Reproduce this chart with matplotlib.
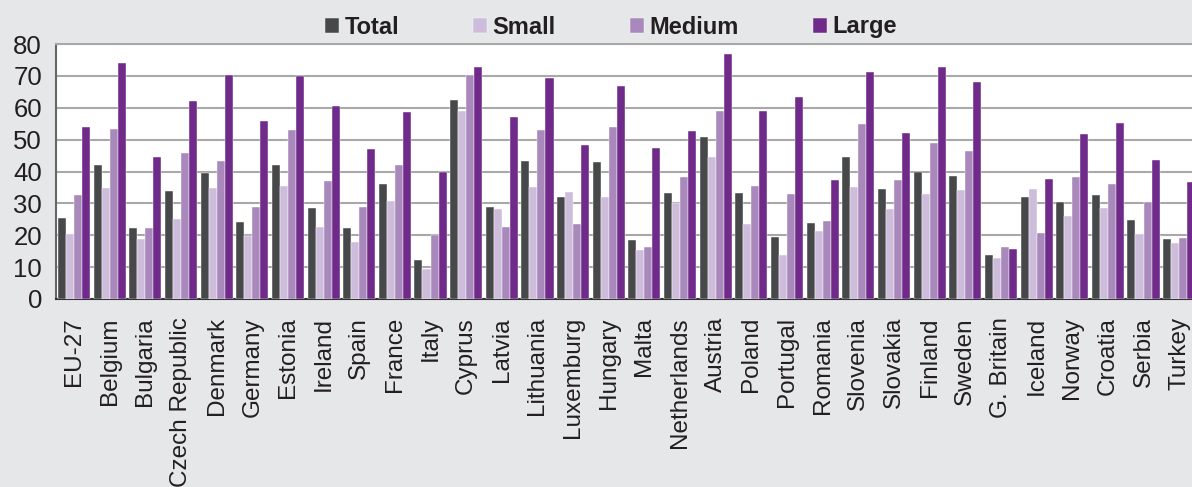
import matplotlib
matplotlib.use("Agg")
import matplotlib.pyplot as plt
import numpy as np

countries = ["EU-27", "Belgium", "Bulgaria", "Czech Republic", "Denmark", "Germany",
             "Estonia", "Ireland", "Spain", "France", "Italy", "Cyprus", "Latvia",
             "Lithuania", "Luxemburg", "Hungary", "Malta", "Netherlands", "Austria",
             "Poland", "Portugal", "Romania", "Slovenia", "Slovakia", "Finland",
             "Sweden", "G. Britain", "Iceland", "Norway", "Croatia", "Serbia", "Turkey"]

total = [25.3, 42.1, 22.3, 34.0, 39.5, 24.2, 41.9, 28.4, 22.2, 36.0, 12.1, 62.3, 29.0,
         43.2, 32.1, 43.1, 18.4, 33.4, 50.9, 33.4, 19.5, 24.0, 44.5, 34.6, 39.7, 38.7,
         13.7, 32.1, 30.5, 32.5, 24.8, 18.7]
small = [20.4, 34.8, 18.9, 25.0, 34.9, 19.8, 35.5, 22.6, 17.9, 30.9, 9.4, 59.0, 28.2,
         35.1, 33.7, 32.1, 15.5, 30.2, 44.7, 23.6, 13.7, 21.3, 35.1, 28.3, 32.9, 34.2,
         12.9, 34.5, 25.9, 28.5, 20.3, 17.5]
medium = [32.6, 53.3, 22.2, 45.8, 43.4, 29.0, 53.0, 36.9, 28.8, 41.9, 20.1, 70.2, 22.5,
          52.9, 23.6, 54.1, 16.3, 38.4, 59.0, 35.6, 33.0, 24.5, 54.8, 37.3, 48.9, 46.4,
          16.3, 20.6, 38.2, 36.0, 30.4, 19.1]
large = [53.9, 74.0, 44.4, 62.0, 70.3, 55.7, 69.9, 60.6, 47.1, 58.6, 40.0, 72.8, 57.1,
         69.3, 48.4, 66.7, 47.3, 52.7, 77.0, 58.9, 63.5, 37.3, 71.2, 52.1, 72.8, 68.2,
         15.6, 37.6, 51.8, 55.2, 43.7, 36.7]

series_names = ["Total", "Small", "Medium", "Large"]
colors = ["#47484a", "#cdbddb", "#a988bb", "#6f2a8a"]
yticks = [0, 10, 20, 30, 40, 50, 60, 70, 80]

bg = "#e6e7e9"
fig = plt.figure(figsize=(11.92, 4.87), dpi=100, facecolor=bg)
ax = fig.add_axes([56/1192, 188/487, 1 - 56/1192, (299-44)/487])
ax.set_facecolor("white")

x = np.arange(len(countries))
w = 0.225
handles = []
for k, (vals, c, name) in enumerate(zip([total, small, medium, large], colors, series_names)):
    b = ax.bar(x + (k - 1.5) * w, vals, width=w, color=c, label=name,
               edgecolor="white", linewidth=0.3, zorder=3)
    handles.append(b)

ax.set_ylim(0, 80)
ax.set_xlim(-0.505, 31.36)
ax.set_yticks(yticks)
ax.yaxis.grid(True, color="#a8a8a8", linewidth=1.5, zorder=0)
ax.set_axisbelow(True)
ax.set_xticks(x)
ax.set_xticklabels(countries, rotation=90, fontsize=17.5, color="#231f20",
                   family="Liberation Sans")
ax.tick_params(axis="x", length=0, pad=13)
ax.tick_params(axis="y", length=0, pad=10, labelsize=18.5, labelcolor="#231f20")
for lab in ax.get_yticklabels():
    lab.set_family("Liberation Sans")

ax.spines["right"].set_visible(False)
ax.spines["top"].set_color("#a8a8a8")
ax.spines["top"].set_linewidth(1.5)
ax.spines["left"].set_color("#666666")
ax.spines["left"].set_linewidth(1.5)
ax.spines["bottom"].set_color("#333333")
ax.spines["bottom"].set_linewidth(1.5)

leg = fig.legend(handles=handles, labels=series_names, loc="center",
                 bbox_to_anchor=(611/1192, 1 - 27/487), ncol=4, frameon=False,
                 prop={"family": "Liberation Sans", "weight": "bold", "size": 17},
                 handlelength=0.6, handleheight=0.6, handletextpad=0.22,
                 columnspacing=3.15, labelcolor="#231f20", borderpad=0)

fig.savefig("out.png", dpi=100, facecolor=bg)
